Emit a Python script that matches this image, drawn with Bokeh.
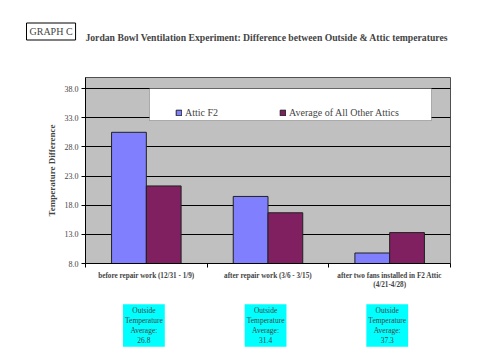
from bokeh.plotting import figure
from bokeh.layouts import column
from bokeh.models import (Range1d, FixedTicker, NumeralTickFormatter, Label, Legend,
                          LegendItem, BoxAnnotation, ColumnDataSource)
from bokeh.embed import file_html
from bokeh.resources import INLINE

categories = ["before repair work (12/31 - 1/9)",
              "after repair work (3/6 - 3/15)",
              "after two fans installed in F2 Attic\n(4/21-4/28)"]
series_names = ["Attic F2", "Average of All Other Attics"]
attic_f2 = [30.5, 19.5, 9.8]
other_attics = [21.3, 16.7, 13.3]
outside_avg = [26.8, 31.4, 37.3]
y_ticks = [8, 13, 18, 23, 28, 33, 38]
colors = ["#8080FF", "#802060"]

FONT = "Liberation Serif"
W = 478
H_HEAD, H_MAIN, H_FOOT = 77, 223, 54

# ---------- header ----------
head = figure(width=W, height=H_HEAD, output_backend="svg", toolbar_location=None,
              x_axis_type=None, y_axis_type=None, x_range=Range1d(0, W), y_range=Range1d(0, H_HEAD),
              min_border=0, min_border_left=0, min_border_right=0, min_border_top=0, min_border_bottom=0)
head.outline_line_color = None
head.grid.visible = False
head.add_layout(Label(x=267.5, y=40, x_units="screen", y_units="screen",
                      text="Jordan Bowl Ventilation Experiment:  Difference between Outside & Attic temperatures",
                      text_align="center", text_baseline="middle", text_font=FONT,
                      text_font_size="9.7px", text_font_style="bold"))
head.add_layout(Label(x=26, y=46, x_units="screen", y_units="screen",
                      text="GRAPH C", text_align="left", text_baseline="middle", text_font=FONT,
                      text_font_size="10px", background_fill_color="white",
                      border_line_color="black", padding=3))

# ---------- main chart ----------
p = figure(width=W, height=H_MAIN, output_backend="svg", toolbar_location=None,
           x_range=Range1d(0, len(categories)), y_range=Range1d(8, 39.9),
           min_border_left=85, min_border_right=28, min_border_top=0, min_border_bottom=37)
p.background_fill_color = "#C0C0C0"
p.border_fill_color = "white"
p.outline_line_color = "#505050"

bar_w = 1 / 3.5
centers = [i + 0.5 for i in range(len(categories))]
renderers = []
for k, vals in enumerate([attic_f2, other_attics]):
    off = (k - 0.5) * bar_w
    src = ColumnDataSource(dict(x=[c + off for c in centers], top=vals))
    r = p.vbar(x="x", top="top", bottom=y_ticks[0], width=bar_w, source=src,
               fill_color=colors[k], line_color="#202020", line_width=1)
    renderers.append(r)

p.yaxis.ticker = FixedTicker(ticks=y_ticks)
p.yaxis.formatter = NumeralTickFormatter(format="0.0")
p.yaxis.axis_label = "Temperature Difference"
p.yaxis.axis_label_text_font = FONT
p.yaxis.axis_label_text_font_style = "bold"
p.yaxis.axis_label_text_font_size = "9px"
p.yaxis.axis_label_standoff = 5
p.yaxis.major_label_text_font = FONT
p.yaxis.major_label_text_font_size = "8px"
p.yaxis.major_label_standoff = 3
p.yaxis.major_tick_out = 4
p.yaxis.major_tick_in = 0
p.yaxis.minor_tick_line_color = None
p.yaxis.axis_line_color = "black"

p.xaxis.ticker = FixedTicker(ticks=centers, minor_ticks=list(range(len(categories) + 1)))
p.xaxis.major_label_overrides = {c: lab for c, lab in zip(centers, categories)}
p.xaxis.major_label_text_font = FONT
p.xaxis.major_label_text_font_size = "7.2px"
p.xaxis.major_label_text_font_style = "bold"
p.xaxis.major_label_standoff = 4
p.xaxis.major_tick_out = 0
p.xaxis.major_tick_in = 0
p.xaxis.minor_tick_out = 4
p.xaxis.minor_tick_in = 0
p.xaxis.minor_tick_line_color = "black"
p.xaxis.axis_line_color = "black"

p.xgrid.grid_line_color = None
p.ygrid.grid_line_color = "black"
p.ygrid.grid_line_width = 1

p.add_layout(BoxAnnotation(left=64, right=346, top=175, bottom=143,
                           left_units="screen", right_units="screen",
                           top_units="screen", bottom_units="screen",
                           fill_color="white", fill_alpha=1, line_color="#303030",
                           line_width=1, level="annotation"))
legend = Legend(items=[LegendItem(label=n, renderers=[r]) for n, r in zip(series_names, renderers)],
                orientation="horizontal", location=(90, 145),
                background_fill_alpha=0, border_line_color=None,
                glyph_width=7, glyph_height=7, label_standoff=3, spacing=61,
                padding=4, margin=0,
                label_text_font=FONT, label_text_font_size="10px")
p.add_layout(legend, "center")

# ---------- footer: outside temperature boxes ----------
foot = figure(width=W, height=H_FOOT, output_backend="svg", toolbar_location=None,
              x_axis_type=None, y_axis_type=None, x_range=p.x_range, y_range=Range1d(0, H_FOOT),
              min_border_left=85, min_border_right=28, min_border_top=0, min_border_bottom=0)
foot.outline_line_color = None
foot.grid.visible = False
for c, t in zip(centers, outside_avg):
    foot.add_layout(Label(x=c - 0.02, y=29, x_units="data", y_units="screen",
                          text="Outside\nTemperature\nAverage:\n" + f"{t:.1f}",
                          text_align="center", text_baseline="middle", text_font=FONT,
                          text_font_size="7.5px", text_line_height=1.1,
                          background_fill_color="#00FFFF", padding=2))

layout = column(head, column(p, foot, spacing=0), spacing=0)
open("out.html", "w").write(file_html(layout, INLINE))
